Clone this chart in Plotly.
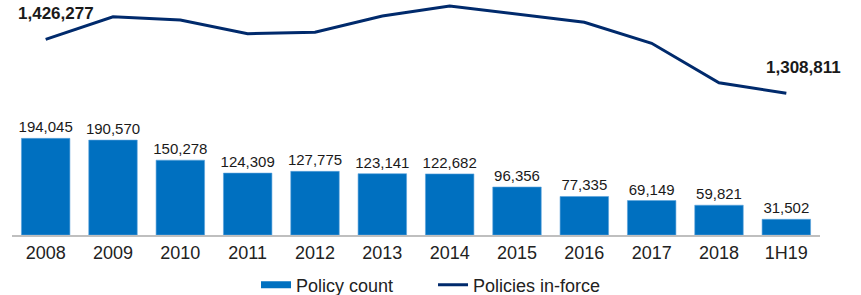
import plotly.graph_objects as go

categories = ["2008", "2009", "2010", "2011", "2012", "2013", "2014", "2015", "2016", "2017", "2018", "1H19"]
policy_count = [194045, 190570, 150278, 124309, 127775, 123141, 122682, 96356, 77335, 69149, 59821, 31502]
policies_in_force = [1426277, 1475400, 1468300, 1438500, 1441500, 1477000, 1498700, 1481300, 1463300, 1417600, 1331900, 1308811]

FONT = "Liberation Sans, Arial, sans-serif"
BAR_COLOR = "#0070C0"
LINE_COLOR = "#002A6C"

fig = go.Figure()
fig.add_trace(go.Bar(
    x=categories, y=policy_count, name="Policy count", showlegend=False,
    marker=dict(color=BAR_COLOR, line=dict(color="#5BA3DB", width=0.6)),
    text=[f"{v:,}" for v in policy_count], textposition="outside",
    textfont=dict(family=FONT, size=15, color="#1a1a1a"),
    constraintext="none",
    cliponaxis=False, yaxis="y",
))
fig.add_trace(go.Scatter(
    x=categories, y=policies_in_force, name="Policies in-force",
    mode="lines", line=dict(color=LINE_COLOR, width=3), yaxis="y2",
    showlegend=False,
))
# legend entries (legend-only swatches)
fig.add_trace(go.Scatter(
    x=[None], y=[None], name="Policy count", mode="lines",
    line=dict(color=BAR_COLOR, width=7), showlegend=True,
))
fig.add_trace(go.Scatter(
    x=[None], y=[None], name="Policies in-force", mode="lines",
    line=dict(color=LINE_COLOR, width=3), showlegend=True,
))

for i in (0, len(categories) - 1):
    fig.add_annotation(
        x=i, y=policies_in_force[i], xref="x", yref="y2",
        text=f"<b>{policies_in_force[i]:,}</b>", showarrow=False,
        xshift=10 if i == 0 else 17, yshift=26,
        font=dict(family=FONT, size=17, color="#1a1a1a"),
    )

fig.update_layout(
    width=861, height=295,
    margin=dict(l=12, r=41, t=0, b=60, autoexpand=False),
    paper_bgcolor="white", plot_bgcolor="white",
    bargap=0.28,
    font=dict(family=FONT, size=18, color="#222222"),
    xaxis=dict(
        type="category", categoryorder="array", categoryarray=categories,
        range=[-0.5, len(categories) - 0.5], autorange=False,
        showgrid=False, showline=True, linecolor="#BFBFBF",
        linewidth=2, ticks="", tickfont=dict(family=FONT, size=18, color="#222222"),
        automargin=False,
    ),
    yaxis=dict(range=[0, 471900], visible=False, showgrid=False),
    yaxis2=dict(range=[1000630, 1511750], overlaying="y", visible=False, showgrid=False),
    legend=dict(
        orientation="h", x=0.302, xanchor="left", y=-0.213, yanchor="middle",
        font=dict(family=FONT, size=18, color="#222222"),
        bgcolor="rgba(0,0,0,0)", traceorder="normal",
        entrywidth=132, entrywidthmode="pixels",
    ),
    showlegend=True,
)

fig.write_html(
    "out.html",
    config={"displayModeBar": False},
    post_script="document.body.style.margin='0';document.body.style.overflow='hidden';",
)
